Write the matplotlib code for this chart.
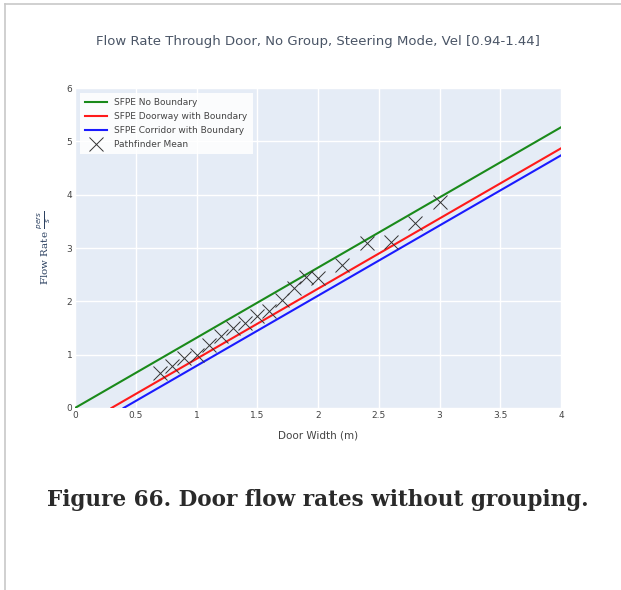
import numpy as np
import matplotlib.pyplot as plt
from matplotlib.lines import Line2D

# SFPE specific flow (pers/s/m) and boundary layer widths (m)
fs = 1.316
door_width = [0, 4]
boundary_doorway = 0.3
boundary_corridor = 0.4

# Pathfinder mean flow rate
pf_width = [0.7, 0.8, 0.9, 1.0, 1.1, 1.2, 1.3, 1.4, 1.5, 1.6,
            1.7, 1.8, 1.9, 2.0, 2.2, 2.4, 2.6, 2.8, 3.0]
pf_flow = [0.65, 0.78, 0.93, 0.99, 1.18, 1.35, 1.50, 1.60, 1.73, 1.81,
           2.03, 2.25, 2.45, 2.44, 2.68, 3.09, 3.12, 3.46, 3.87]

xticks = [0, 0.5, 1, 1.5, 2, 2.5, 3, 3.5, 4]
xticklabels = ['0', '0.5', '1', '1.5', '2', '2.5', '3', '3.5', '4']
yticks = [0, 1, 2, 3, 4, 5, 6]

txt = '#444444'

fig = plt.figure(figsize=(6.21, 5.90), dpi=100)
ax = fig.add_axes([0.1208, 0.3085, 0.7826, 0.5423])
ax.set_facecolor('#E5ECF6')

w = np.array(door_width, dtype=float)
ax.plot(w, fs * w, color='#1a8a1a', lw=1.5, label='SFPE No Boundary')
w2 = np.array([boundary_doorway, door_width[1]])
ax.plot(w2, fs * (w2 - boundary_doorway), color='#ff1a1a', lw=1.5,
        label='SFPE Doorway with Boundary')
w3 = np.array([boundary_corridor, door_width[1]])
ax.plot(w3, fs * (w3 - boundary_corridor), color='#1a1aff', lw=1.5,
        label='SFPE Corridor with Boundary')
ax.plot(pf_width, pf_flow, ls='none', marker='x', ms=9.5, mew=0.7,
        color='#333333', label='Pathfinder Mean')

ax.set_xlim(0, 4)
ax.set_ylim(0, 6)
ax.set_xticks(xticks)
ax.set_xticklabels(xticklabels)
ax.set_yticks(yticks)
ax.grid(color='white', lw=1)
ax.set_axisbelow(True)
for s in ax.spines.values():
    s.set_visible(False)
ax.tick_params(length=0, labelsize=6.5, colors=txt, pad=2)

ax.set_xlabel('Door Width (m)', fontsize=7.5, color=txt, labelpad=8)
ax.set_ylabel(r'Flow Rate $\frac{pers}{s}$', fontsize=7.5, color='#2a3f5f',
              family='DejaVu Serif', labelpad=10)

leg = ax.legend(loc='upper left', fontsize=6.5, frameon=True, fancybox=False,
                edgecolor='none', framealpha=0.85, borderpad=0.6,
                handlelength=2.4, labelspacing=0.55,
                bbox_to_anchor=(0.0, 1.0))
for t in leg.get_texts():
    t.set_color(txt)

fig.text(0.512, 0.930, 'Flow Rate Through Door, No Group, Steering Mode, Vel [0.94-1.44]',
         ha='center', va='center', fontsize=9.5, color='#4a5566')
fig.text(0.512, 0.152, 'Figure 66. Door flow rates without grouping.',
         ha='center', va='center', fontsize=15.5, fontweight='bold',
         family='DejaVu Serif', color='#2a2a2a')

# page frame lines
fig.add_artist(Line2D([0.008, 1.0], [0.993, 0.993], color='#c8c8c8', lw=1.2))
fig.add_artist(Line2D([0.008, 0.008], [0.0, 0.993], color='#c8c8c8', lw=1.2))

fig.savefig('out.png', dpi=100)
